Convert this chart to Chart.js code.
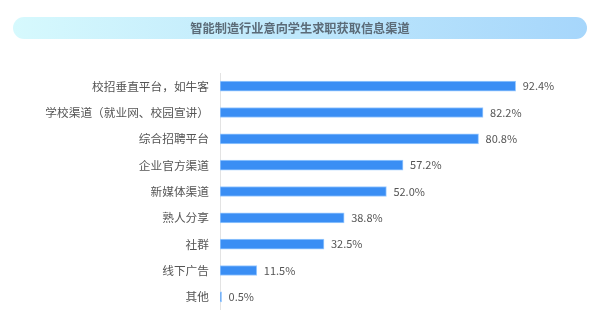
<!DOCTYPE html>
<html><head><meta charset="utf-8">
<script src="https://cdn.jsdelivr.net/npm/chart.js@4.4.1/dist/chart.umd.min.js"></script>
<style>html,body{margin:0;padding:0;background:#fff}#wrap{width:600px;height:317px;position:relative}</style>
</head><body><div id="wrap"><canvas id="c" width="600" height="317"></canvas></div>
<script>
const title = '智能制造行业意向学生求职获取信息渠道';
const categories = ['校招垂直平台，如牛客','学校渠道（就业网、校园宣讲）','综合招聘平台','企业官方渠道','新媒体渠道','熟人分享','社群','线下广告','其他'];
const values = [92.4, 82.2, 80.8, 57.2, 52.0, 38.8, 32.5, 11.5, 0.5];
const FONT = '"Noto Sans CJK SC", "Noto Sans", sans-serif';

const banner = {
  id: 'banner',
  beforeDraw(chart) {
    const ctx = chart.ctx;
    const x = 13, y = 17, w = 574, h = 22, r = 11;
    const g = ctx.createLinearGradient(x, 0, x + w, 0);
    g.addColorStop(0, '#d6f9fd');
    g.addColorStop(1, '#a6d6fb');
    ctx.save();
    ctx.beginPath();
    ctx.moveTo(x + r, y);
    ctx.lineTo(x + w - r, y);
    ctx.arc(x + w - r, y + r, r, -Math.PI / 2, Math.PI / 2);
    ctx.lineTo(x + r, y + h);
    ctx.arc(x + r, y + r, r, Math.PI / 2, Math.PI * 1.5);
    ctx.closePath();
    ctx.fillStyle = g;
    ctx.fill();
    ctx.fillStyle = '#5b6b78';
    ctx.font = 'bold 12.2px ' + FONT;
    ctx.textAlign = 'center';
    ctx.textBaseline = 'middle';
    ctx.fillText(title, 300, y + h / 2 + 0.5);
    ctx.restore();
  }
};

const valueLabels = {
  id: 'valueLabels',
  afterDatasetsDraw(chart) {
    const ctx = chart.ctx;
    const meta = chart.getDatasetMeta(0);
    ctx.save();
    ctx.fillStyle = '#555';
    ctx.font = '11px ' + FONT;
    ctx.textAlign = 'left';
    ctx.textBaseline = 'middle';
    meta.data.forEach((bar, i) => {
      ctx.fillText(values[i].toFixed(1) + '%', bar.x + 7, bar.y);
    });
    ctx.restore();
  }
};

new Chart(document.getElementById('c'), {
  type: 'bar',
  data: {
    labels: categories,
    datasets: [{
      data: values,
      backgroundColor: '#3a8ef4',
      borderColor: '#9ccbff',
      borderWidth: 1,
      barThickness: 10,
      borderSkipped: false
    }]
  },
  options: {
    indexAxis: 'y',
    responsive: false,
    animation: false,
    devicePixelRatio: 1,
    layout: { padding: { left: 0, right: 60, top: 73, bottom: 7 } },
    plugins: { legend: { display: false }, tooltip: { enabled: false } },
    scales: {
      x: { display: false, min: 0, max: 100 },
      y: {
        afterFit(s) { s.width = 220; },
        grid: { display: false, drawTicks: true, tickLength: 11, tickColor: 'rgba(0,0,0,0)' },
        border: { display: true, color: '#e3e3e3', width: 1 },
        ticks: { color: '#555', font: { family: FONT, size: 11.7 }, padding: 0 }
      }
    }
  },
  plugins: [banner, valueLabels]
});
</script></body></html>
